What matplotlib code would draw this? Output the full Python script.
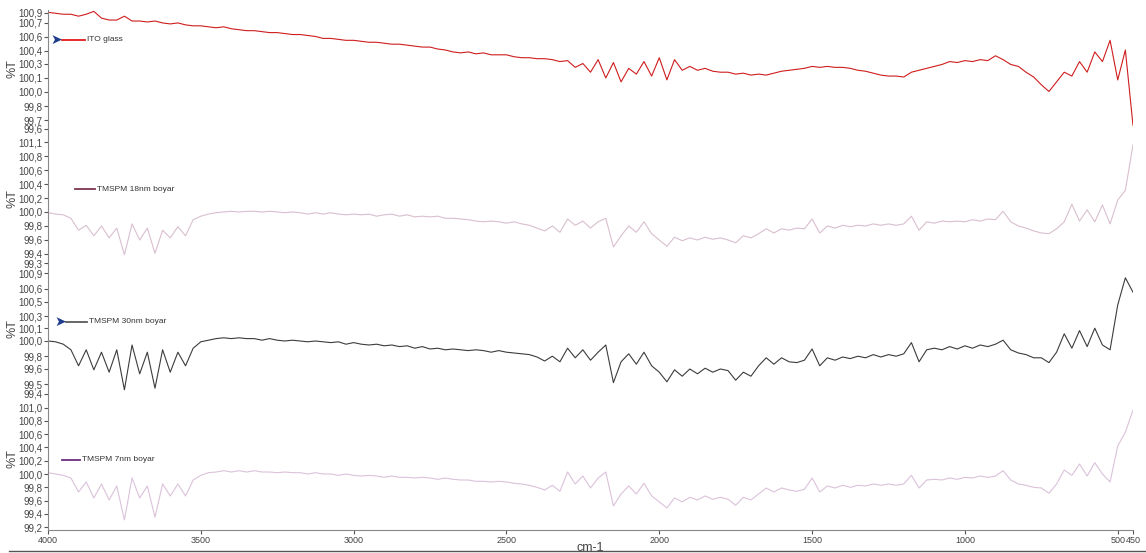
import matplotlib.pyplot as plt
import numpy as np
from matplotlib.lines import Line2D

# wavenumber grid, cm-1 (one sample every 25 cm-1)
wavenumber = np.linspace(4000, 450, 143)

ito_glass = [
    100.86, 100.85, 100.84, 100.84, 100.82, 100.84, 100.87, 100.80, 100.78, 100.78,
    100.82, 100.77, 100.77, 100.76, 100.77, 100.75, 100.74, 100.75, 100.73, 100.72,
    100.72, 100.71, 100.70, 100.71, 100.69, 100.68, 100.67, 100.67, 100.66, 100.65,
    100.65, 100.64, 100.63, 100.63, 100.62, 100.61, 100.59, 100.59, 100.58, 100.57,
    100.57, 100.56, 100.55, 100.55, 100.54, 100.53, 100.53, 100.52, 100.51, 100.50,
    100.50, 100.48, 100.47, 100.45, 100.44, 100.45, 100.43, 100.44, 100.42, 100.42,
    100.42, 100.40, 100.39, 100.39, 100.38, 100.38, 100.37, 100.35, 100.36, 100.29,
    100.33, 100.24, 100.37, 100.18, 100.34, 100.14, 100.28, 100.22, 100.35, 100.20,
    100.39, 100.16, 100.37, 100.26, 100.30, 100.26, 100.28, 100.25, 100.24, 100.24,
    100.22, 100.23, 100.21, 100.22, 100.21, 100.23, 100.25, 100.26, 100.27, 100.28,
    100.30, 100.29, 100.30, 100.29, 100.29, 100.28, 100.26, 100.25, 100.23, 100.21,
    100.20, 100.20, 100.19, 100.24, 100.26, 100.28, 100.30, 100.32, 100.35, 100.34,
    100.36, 100.35, 100.37, 100.36, 100.41, 100.37, 100.32, 100.30, 100.24, 100.19,
    100.11, 100.04, 100.14, 100.24, 100.20, 100.35, 100.24, 100.45, 100.35, 100.57,
    100.16, 100.47, 99.69,
]

tmspm_18nm = [
    99.99, 99.97, 99.96, 99.91, 99.74, 99.81, 99.66, 99.80, 99.63, 99.77,
    99.39, 99.83, 99.60, 99.77, 99.41, 99.74, 99.63, 99.79, 99.66, 99.89,
    99.94, 99.97, 99.99, 100.00, 100.01, 100.00, 100.01, 100.01, 100.00, 100.01,
    100.00, 99.99, 100.00, 99.99, 99.97, 99.99, 99.97, 99.99, 99.97, 99.96,
    99.97, 99.96, 99.97, 99.94, 99.96, 99.97, 99.94, 99.96, 99.93, 99.94,
    99.93, 99.94, 99.91, 99.91, 99.90, 99.89, 99.87, 99.86, 99.87, 99.86,
    99.84, 99.86, 99.83, 99.81, 99.77, 99.73, 99.80, 99.71, 99.90, 99.81,
    99.87, 99.77, 99.86, 99.91, 99.50, 99.66, 99.80, 99.71, 99.86, 99.69,
    99.60, 99.51, 99.64, 99.59, 99.63, 99.60, 99.64, 99.61, 99.63, 99.60,
    99.56, 99.66, 99.63, 99.69, 99.76, 99.70, 99.76, 99.74, 99.77, 99.76,
    99.90, 99.70, 99.80, 99.77, 99.81, 99.79, 99.81, 99.80, 99.83, 99.81,
    99.83, 99.81, 99.83, 99.94, 99.74, 99.86, 99.84, 99.87, 99.86, 99.87,
    99.86, 99.89, 99.87, 99.90, 99.89, 100.01, 99.86, 99.80, 99.77, 99.73,
    99.70, 99.69, 99.76, 99.86, 100.11, 99.87, 100.03, 99.86, 100.10, 99.83,
    100.17, 100.31, 100.96,
]

tmspm_30nm = [
    100.00, 99.99, 99.96, 99.89, 99.69, 99.89, 99.64, 99.86, 99.61, 99.89,
    99.39, 99.95, 99.59, 99.86, 99.41, 99.89, 99.61, 99.86, 99.69, 99.91,
    99.99, 100.01, 100.03, 100.04, 100.03, 100.04, 100.03, 100.03, 100.01, 100.03,
    100.01, 100.00, 100.01, 100.00, 99.99, 100.00, 99.99, 99.98, 99.99, 99.96,
    99.98, 99.96, 99.95, 99.96, 99.94, 99.95, 99.93, 99.94, 99.91, 99.93,
    99.90, 99.91, 99.89, 99.90, 99.89, 99.88, 99.89, 99.88, 99.86, 99.88,
    99.86, 99.85, 99.84, 99.83, 99.80, 99.75, 99.81, 99.74, 99.91, 99.79,
    99.89, 99.76, 99.86, 99.95, 99.48, 99.74, 99.84, 99.71, 99.86, 99.69,
    99.61, 99.49, 99.64, 99.56, 99.65, 99.59, 99.66, 99.61, 99.65, 99.63,
    99.51, 99.61, 99.56, 99.69, 99.79, 99.71, 99.79, 99.74, 99.73, 99.76,
    99.90, 99.69, 99.79, 99.76, 99.80, 99.78, 99.81, 99.79, 99.83, 99.80,
    99.83, 99.81, 99.84, 99.98, 99.74, 99.89, 99.91, 99.89, 99.93, 99.90,
    99.94, 99.91, 99.95, 99.93, 99.96, 100.01, 99.89, 99.85, 99.83, 99.79,
    99.79, 99.73, 99.86, 100.09, 99.91, 100.13, 99.93, 100.16, 99.95, 99.89,
    100.45, 100.79, 100.61,
]

tmspm_7nm = [
    100.02, 100.00, 99.98, 99.94, 99.73, 99.88, 99.64, 99.85, 99.61, 99.82,
    99.31, 99.94, 99.64, 99.82, 99.35, 99.85, 99.67, 99.85, 99.67, 99.91,
    99.98, 100.02, 100.03, 100.05, 100.03, 100.05, 100.03, 100.05, 100.03, 100.03,
    100.02, 100.03, 100.02, 100.02, 100.00, 100.02, 100.00, 100.00, 99.98, 100.00,
    99.98, 99.97, 99.98, 99.97, 99.95, 99.97, 99.95, 99.95, 99.94, 99.95,
    99.94, 99.92, 99.94, 99.92, 99.91, 99.91, 99.89, 99.89, 99.88, 99.89,
    99.88, 99.86, 99.85, 99.83, 99.80, 99.76, 99.83, 99.74, 100.03, 99.85,
    99.97, 99.79, 99.94, 100.03, 99.52, 99.70, 99.82, 99.70, 99.86, 99.67,
    99.58, 99.49, 99.64, 99.58, 99.65, 99.61, 99.67, 99.62, 99.65, 99.62,
    99.53, 99.65, 99.61, 99.70, 99.79, 99.73, 99.79, 99.76, 99.74, 99.77,
    99.94, 99.73, 99.82, 99.79, 99.83, 99.80, 99.83, 99.82, 99.85, 99.83,
    99.85, 99.83, 99.85, 99.98, 99.79, 99.91, 99.92, 99.91, 99.94, 99.92,
    99.95, 99.94, 99.97, 99.95, 99.97, 100.05, 99.91, 99.85, 99.83, 99.80,
    99.79, 99.71, 99.85, 100.06, 99.98, 100.15, 99.97, 100.17, 100.00, 99.88,
    100.42, 100.63, 100.96,
]

names = ['ITO glass', 'TMSPM 18nm boyar', 'TMSPM 30nm boyar', 'TMSPM 7nm boyar']

# the instrument software prints truncated values at evenly spaced ticks
ytick_values = [
    [100.853, 100.75, 100.605, 100.46, 100.325, 100.18, 100.035, 99.89, 99.745, 99.652],
    [101.0, 100.8, 100.6, 100.4, 100.2, 100.0, 99.8, 99.6, 99.4, 99.27],
    [100.85, 100.65, 100.49, 100.31, 100.16, 100.0, 99.81, 99.65, 99.46, 99.34],
    [101.0, 100.8, 100.6, 100.4, 100.2, 100.0, 99.8, 99.6, 99.4, 99.2],
]
ytick_labels = [
    ['100,9', '100,7', '100,6', '100,4', '100,3', '100,1', '100,0', '99,8', '99,7', '99,6'],
    ['101,1', '100,8', '100,6', '100,4', '100,2', '100,0', '99,8', '99,6', '99,4', '99,3'],
    ['100,9', '100,6', '100,5', '100,3', '100,1', '100,0', '99,8', '99,6', '99,5', '99,4'],
    ['101,0', '100,8', '100,6', '100,4', '100,2', '100,0', '99,8', '99,6', '99,4', '99,2'],
]
xticks = [4000, 3500, 3000, 2500, 2000, 1500, 1000, 500, 450]

plt.rcParams['font.family'] = ['Liberation Sans', 'DejaVu Sans']

W, H = 1146, 553
fig = plt.figure(figsize=(W / 100, H / 100), dpi=100)

series = [ito_glass, tmspm_18nm, tmspm_30nm, tmspm_7nm]
line_colors = ['#cf1d1d', '#d9bfcf', '#3c3c3c', '#dbc2da']
key_colors = ['#e01a1a', '#7d3550', '#5a5a5a', '#6a2d7e']
ylims = [(99.538, 100.884), (99.171, 101.029), (99.2625, 100.8875), (99.158, 101.113)]
# legend key: (line start px, line end px, y fraction, arrow?)
keys = [(62, 85, 0.77, True), (75, 95, 0.62, False), (66, 87, 0.60, True), (62, 80, 0.54, False)]

left, right = 48 / W, 1133 / W
panel_h = 130 / H
top = 1 - 10 / H

for i in range(4):
    ax = fig.add_axes([left, top - (i + 1) * panel_h, right - left, panel_h])
    ax.plot(wavenumber, series[i], color=line_colors[i], lw=0.8)
    ax.set_xlim(4000, 450)
    ax.set_ylim(*ylims[i])
    ax.set_yticks(ytick_values[i])
    ax.set_yticklabels(ytick_labels[i])
    ax.tick_params(axis='y', direction='out', length=3, width=0.8, pad=1,
                   labelsize=7, colors='#555555', labelcolor='#444444')
    for s in ['top', 'right']:
        ax.spines[s].set_visible(False)
    ax.spines['left'].set_color('#888888')
    ax.set_ylabel('%T', fontsize=9, color='#444444')
    ax.yaxis.set_label_coords(-0.027, 0.55)

    if i < 3:
        ax.spines['bottom'].set_visible(False)
        ax.set_xticks([])
    else:
        ax.spines['bottom'].set_color('#888888')
        ax.set_xticks(xticks)
        ax.set_xticklabels([str(t) for t in xticks])
        ax.tick_params(axis='x', direction='out', length=3, width=0.8, pad=1,
                       labelsize=6.5, colors='#555555', labelcolor='#444444')
        ax.set_xlabel('cm-1', fontsize=9, color='#444444', labelpad=-2)

    x0, x1, yk, arrow = keys[i]
    fx0, fx1 = (x0 - 48) / 1085, (x1 - 48) / 1085
    ax.plot([fx0, fx1], [yk, yk], transform=ax.transAxes, color=key_colors[i], lw=1.3)
    ax.text(fx1 + 0.002, yk, names[i], transform=ax.transAxes, fontsize=6,
            va='center', ha='left', color='#333333')
    if arrow:
        ax.text(fx0 - 0.005, yk, '\u27a4', transform=ax.transAxes, fontsize=10,
                va='center', ha='center', color='#1f3d8c', family='DejaVu Sans')

fig.add_artist(Line2D([0.008, 1.0], [1 - 551 / H, 1 - 551 / H], color='#555555', lw=1))

fig.savefig('out.png', dpi=100)
